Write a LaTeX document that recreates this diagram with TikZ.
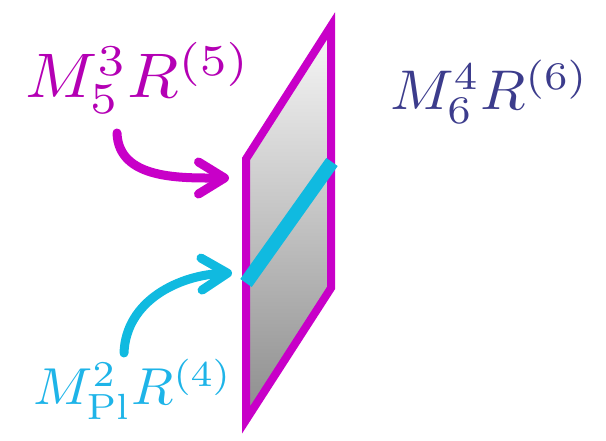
\documentclass[tikz,border=0pt]{standalone}
\usepackage{graphicx}
\usetikzlibrary{arrows.meta}
\definecolor{mag}{RGB}{200,0,200}
\definecolor{magtext}{RGB}{180,0,180}
\definecolor{navy}{RGB}{60,60,140}
\definecolor{cyanb}{RGB}{16,186,224}
\definecolor{cyantext}{RGB}{30,180,232}
\definecolor{shadetop}{RGB}{248,248,248}
\definecolor{shadebot}{RGB}{140,140,140}
\tikzset{
  lbl/.style={inner sep=0pt, anchor=base west},
  curvedarrow/.style={line width=9pt, line cap=round, -{Straight Barb[length=26pt,width=32pt,round]}},
}
\begin{document}
\begin{tikzpicture}[x=1pt,y=1pt]
\useasboundingbox (0,0) rectangle (606,440);
% membrane
\coordinate (pA) at (246,281);
\coordinate (pB) at (331,414);
\coordinate (pC) at (331,152);
\coordinate (pD) at (246,20);
\shade[top color=shadetop, bottom color=shadebot] (pA) -- (pB) -- (pC) -- (pD) -- cycle;
\draw[mag, line width=8pt, line join=miter] (pA) -- (pB) -- (pC) -- (pD) -- cycle;
% brane
\coordinate (bL) at (246,157);
\coordinate (bR) at (332,278);
\draw[cyanb, line width=14pt] (bL) -- (bR);
% labels
\node[lbl, text=magtext] (t5) at (25,342) {\scalebox{6.7}[6.3]{$M_5^3R^{(5)}$}};
\node[lbl, text=navy] (t6) at (390,330) {\scalebox{5.9}[5.6]{$M_6^4R^{(6)}$}};
\node[lbl, text=cyantext] (t4) at (33,35) {\scalebox{5.5}[5.2]{$M_{\rm Pl}^2R^{(4)}$}};
% arrows
\coordinate (s5) at (117,307);
\coordinate (e5) at (229,262);
\coordinate (s4) at (124,87);
\coordinate (e4) at (232,167);
\draw[curvedarrow, mag] (s5) to[out=-88,in=180] (e5);
\draw[curvedarrow, cyanb] (s4) to[out=88,in=182] (e4);
\end{tikzpicture}
\end{document}
